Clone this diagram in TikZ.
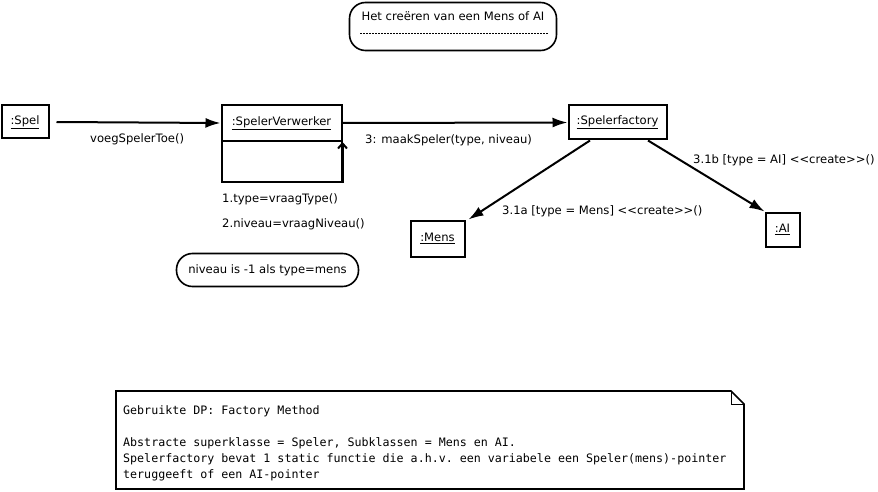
\documentclass[tikz,border=0pt]{standalone}
\usepackage{fontspec}
\setmainfont{DejaVu Sans}
\setmonofont{DejaVu Sans Mono}
\usetikzlibrary{arrows.meta,positioning,calc}
\tikzset{
  obj/.style={draw, line width=2pt, inner sep=0pt, font=\fontsize{11.6}{13}\selectfont},
  lbl/.style={inner sep=0pt, anchor=west, font=\fontsize{11.6}{13}\selectfont},
  commentbox/.style={draw, line width=1.6pt, rounded corners=16pt, inner sep=0pt, font=\fontsize{11.6}{13}\selectfont},
  msg/.style={-{Latex[length=15pt,width=10pt]}, line width=2pt},
  selfmsg/.style={-{Straight Barb[length=5pt,width=9pt]}, line width=2pt}
}
\begin{document}
\begin{tikzpicture}[x=1pt,y=-1pt]
  \useasboundingbox (0,0) rectangle (878,492);
  % commentaar bovenaan
  \node[commentbox, minimum width=207pt, text height=9pt, text depth=20pt, inner ysep=9.5pt] (titel) at (453,26.5) {Het creëren van een Mens of AI};
  \draw[line width=0.8pt, dash pattern=on 2pt off 1pt] (360,33) -- (548,33);
  % objecten
  \node[obj, minimum width=47pt, minimum height=33pt] (spel) at (25,122) {\underline{:Spel}};
  \node[obj, minimum width=120pt, minimum height=36pt] (verwerker) at (281.5,123) {\underline{:SpelerVerwerker}};
  \node[obj, minimum width=120pt, minimum height=41pt, below=-2pt of verwerker] (verwerkerbody) {};
  \node[obj, minimum width=98pt, minimum height=34pt] (factory) at (617.5,122.5) {\underline{:Spelerfactory}};
  \node[obj, minimum width=54pt, minimum height=36pt] (mens) at (437.5,238.5) {\underline{:Mens}};
  \node[obj, minimum width=34pt, minimum height=34pt] (ai) at (782.5,229.5) {\underline{:AI}};
  % berichten
  \draw[msg] ([xshift=7pt]spel.east) -- (verwerker.west);
  \draw[selfmsg] (verwerkerbody.south east) -- ([yshift=-2pt]verwerkerbody.north east);
  \draw[msg] (verwerker.east) -- (factory.west);
  \draw[msg] ([xshift=-27.5pt]factory.south) -- ([xshift=3pt]mens.north east);
  \draw[msg] ([xshift=30.5pt]factory.south) -- (ai.north west);
  \node[lbl] (lblvoeg) at (90,139) {voegSpelerToe()};
  \node[lbl] (lbltype) at (222,199) {1.type=vraagType()};
  \node[lbl] (lblniveau) at (222,224) {2.niveau=vraagNiveau()};
  \node[lbl] (lblmaak) at (365,140) {3: maakSpeler(type, niveau)};
  \node[lbl] (lblmens) at (502,211) {3.1a [type = Mens] <\kern0pt<create>\kern0pt>()};
  \node[lbl] (lblai) at (693,160) {3.1b [type = AI] <\kern0pt<create>\kern0pt>()};
  \node[commentbox, minimum width=182pt, minimum height=33pt] (niveaunote) at (267.5,270) {niveau is -1 als type=mens};
  % notitie onderaan
  \draw[line width=1.6pt] (116,391) -- (731,391) -- (744,404) -- (744,489) -- (116,489) -- cycle;
  \draw[line width=0.8pt] (731,391) |- (744,404);
  \node[anchor=north west, align=left, inner sep=0pt, font=\ttfamily\fontsize{11.65}{16}\selectfont] (dpnote) at (123,405) {Gebruikte DP: Factory Method\\[16pt]
    Abstracte superklasse = Speler, Subklassen = Mens en AI.\\
    Spelerfactory bevat 1 static functie die a.h.v. een variabele een Speler(mens)-pointer\\
    teruggeeft of een AI-pointer};
\end{tikzpicture}
\end{document}
